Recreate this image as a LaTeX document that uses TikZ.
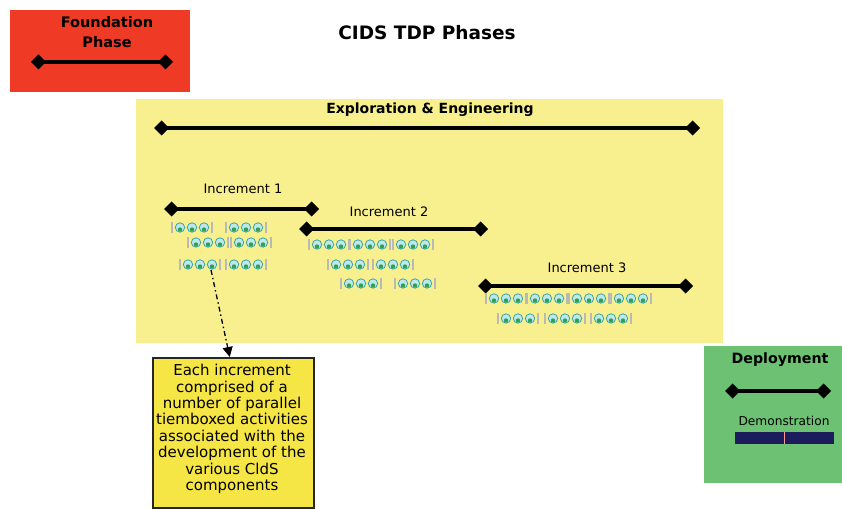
\documentclass[tikz,border=0pt]{standalone}
\usepackage{fontspec}
\setmainfont{DejaVu Sans}
\usetikzlibrary{arrows.meta,calc}
\definecolor{redbox}{HTML}{EF3A25}
\definecolor{paleyel}{HTML}{F8EF8E}
\definecolor{noteyel}{HTML}{F6E645}
\definecolor{greenbox}{HTML}{6DC172}
\definecolor{navybar}{HTML}{1C1C5C}
\definecolor{iconfill}{HTML}{BFE8EC}
\definecolor{iconedge}{HTML}{3AA6A8}
\definecolor{icongreen}{HTML}{2EA050}
\tikzset{
  dline/.style={line width=4pt,{Diamond[length=15pt,width=15pt]}-{Diamond[length=15pt,width=15pt]}},
  boldlbl/.style={font=\bfseries\fontsize{14}{16}\selectfont,inner sep=0pt},
  inclbl/.style={font=\fontsize{13}{15}\selectfont,inner sep=0pt},
  icons/.pic={
    \draw[gray!55,line width=1.3pt] (0,0) -- (0,11) (40,0) -- (40,11);
    \foreach \i in {8,20,32}{
      \fill[iconfill] (\i,5.5) circle (4.7pt);
      \draw[iconedge,line width=0.8pt] (\i,5.5) circle (4.7pt);
      \fill[icongreen] (\i,7.5) circle (2.2pt);
    }
  }
}
\begin{document}
\begin{tikzpicture}[x=1pt,y=-1pt]
\useasboundingbox (0,0) rectangle (842,510);
% Foundation phase
\fill[redbox] (10,10) rectangle (190,92);
\node[boldlbl,align=center,font=\bfseries\fontsize{14.5}{20}\selectfont] (found) at (107,32) {Foundation\\Phase};
\coordinate (f1) at (31,62); \coordinate (f2) at (173,62);
\draw[dline] (f1) -- (f2);
% title
\node[font=\bfseries\fontsize{18.5}{20}\selectfont,inner sep=0pt] (title) at (427,33) {CIDS TDP Phases};
% Exploration & Engineering
\fill[paleyel] (136,99) rectangle (723,343);
\node[boldlbl] (expl) at (430,110) {Exploration \& Engineering};
\coordinate (e1) at (154,128); \coordinate (e2) at (700,128);
\draw[dline] (e1) -- (e2);
% Increment 1
\node[inclbl] (inc1) at (243,189) {Increment 1};
\coordinate (a1) at (164,209); \coordinate (a2) at (319,209);
\draw[dline] (a1) -- (a2);
% Increment 2
\node[inclbl] (inc2) at (389,212) {Increment 2};
\coordinate (b1) at (299,229); \coordinate (b2) at (488,229);
\draw[dline] (b1) -- (b2);
% Increment 3
\node[inclbl] (inc3) at (587,268) {Increment 3};
\coordinate (c1) at (478,286); \coordinate (c2) at (693,286);
\draw[dline] (c1) -- (c2);
% icon groups increment 1
\pic at (172,222) {icons};
\pic at (226,222) {icons};
\pic at (188,237) {icons};
\pic at (231,237) {icons};
\pic at (180,259) {icons};
\pic at (226,259) {icons};
% increment 2
\pic at (309,239) {icons};
\pic at (350,239) {icons};
\pic at (393,239) {icons};
\pic at (328,259) {icons};
\pic at (373,259) {icons};
\pic at (341,278) {icons};
\pic at (395,278) {icons};
% increment 3
\pic at (486,293) {icons};
\pic at (527,293) {icons};
\pic at (569,293) {icons};
\pic at (611,293) {icons};
\pic at (498,313) {icons};
\pic at (545,313) {icons};
\pic at (591,313) {icons};
% note
\node[draw=black!85,line width=1.5pt,fill=noteyel,minimum width=161pt,minimum height=150pt,anchor=north west,inner sep=0pt] (note) at (152,357) {};
\node[align=center,font=\fontsize{15}{16.4}\selectfont,inner sep=0pt,anchor=north] (notetxt) at (232,364)
 {Each increment\\comprised of a\\number of parallel\\tiemboxed activities\\associated with the\\development of the\\various CldS\\components};
\coordinate (g13) at (211,270);
\draw[line width=1.3pt,dash pattern=on 5pt off 3pt on 1.5pt off 3pt,-{Triangle[length=10pt,width=10pt]}] (g13) -- ($(note.north)+(-3.5,0)$);
% Deployment
\fill[greenbox] (704,346) rectangle (842,483);
\node[boldlbl,font=\bfseries\fontsize{14.2}{16}\selectfont] (depl) at (780,360) {Deployment};
\coordinate (d1) at (725,391); \coordinate (d2) at (831,391);
\draw[dline] (d1) -- (d2);
\node[inclbl,font=\fontsize{12.2}{14}\selectfont] (demo) at (784,421) {Demonstration};
\fill[navybar] (735,432) rectangle (834,444);
\draw[pink!80!red,line width=1pt] (784,432) -- (784,444);
\end{tikzpicture}
\end{document}
